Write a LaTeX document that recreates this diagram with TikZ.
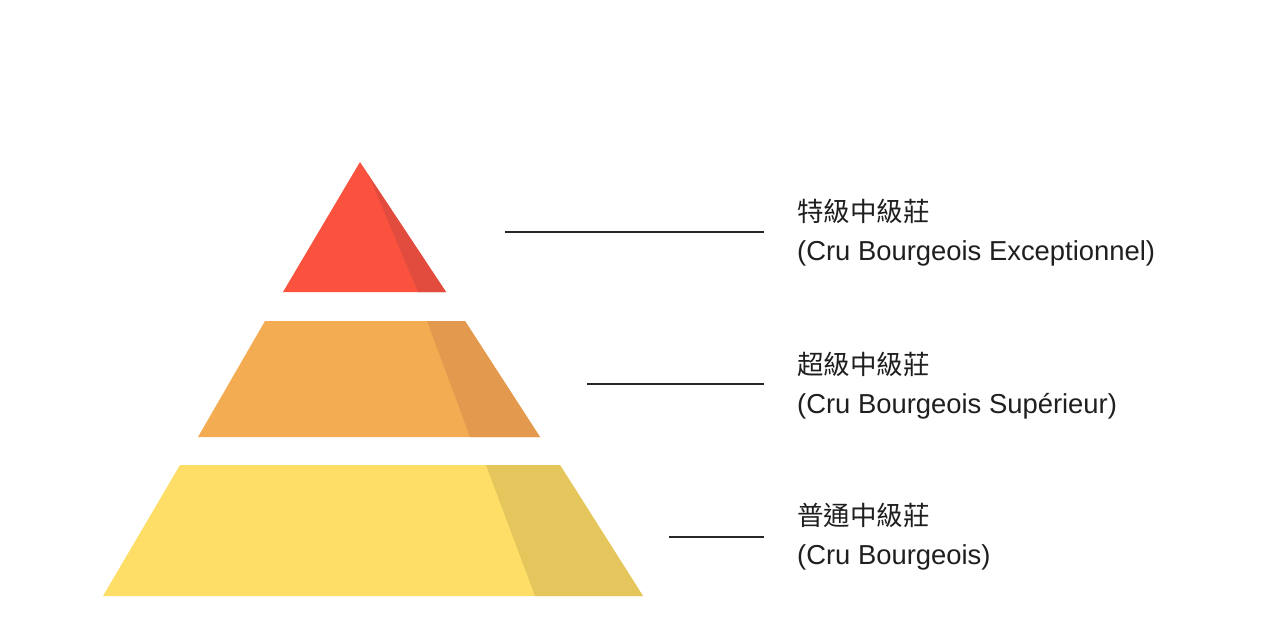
\documentclass[tikz,border=0pt]{standalone}
\usepackage{fontspec}
\setmainfont{Liberation Sans}
\newfontfamily\cjk{Noto Sans CJK TC}
\usetikzlibrary{positioning}
\definecolor{redface}{RGB}{250,82,62}
\definecolor{redside}{RGB}{226,76,62}
\definecolor{orgface}{RGB}{244,172,82}
\definecolor{orgside}{RGB}{228,154,78}
\definecolor{ylwface}{RGB}{254,222,102}
\definecolor{ylwside}{RGB}{228,198,92}
\tikzset{
  lead/.style={draw=black!85, line width=1.2pt, shorten >=33pt},
  grade/.style={anchor=west, align=left, inner sep=0pt,
    font=\fontsize{27.4}{39}\selectfont, text=black!88},
  every picture/.append style={line join=round}
}
\begin{document}
\begin{tikzpicture}[x=1pt, y=-1pt]
  \useasboundingbox (0,0) rectangle (1280,632);
  % tiers
  \fill[redface] (360,162) -- (446,292) -- (283,292) -- cycle;
  \fill[redside] (369,176) -- (446,292) -- (418,292) -- cycle;
  \fill[orgface] (265,321) -- (465,321) -- (540,437) -- (198,437) -- cycle;
  \fill[orgside] (427,321) -- (465,321) -- (540,437) -- (470,437) -- cycle;
  \fill[ylwface] (180,465) -- (560,465) -- (643,596) -- (103,596) -- cycle;
  \fill[ylwside] (486,465) -- (560,465) -- (643,596) -- (535,596) -- cycle;
  % labels
  \node[grade] (g1) at (797,233) {{\cjk\fontsize{26.5}{39}\selectfont 特級中級莊}\\(Cru Bourgeois Exceptionnel)};
  \node[grade] (g2) at (797,386) {{\cjk\fontsize{26.5}{39}\selectfont 超級中級莊}\\(Cru Bourgeois Supérieur)};
  \node[grade] (g3) at (797,537) {{\cjk\fontsize{26.5}{39}\selectfont 普通中級莊}\\(Cru Bourgeois)};
  \coordinate (l1) at (505,232);
  \coordinate (l2) at (587,384);
  \coordinate (l3) at (669,537);
  \foreach \p/\q in {l1/g1,l2/g2,l3/g3} \draw[lead] (\p) -- (\p -| \q.west);
\end{tikzpicture}
\end{document}
